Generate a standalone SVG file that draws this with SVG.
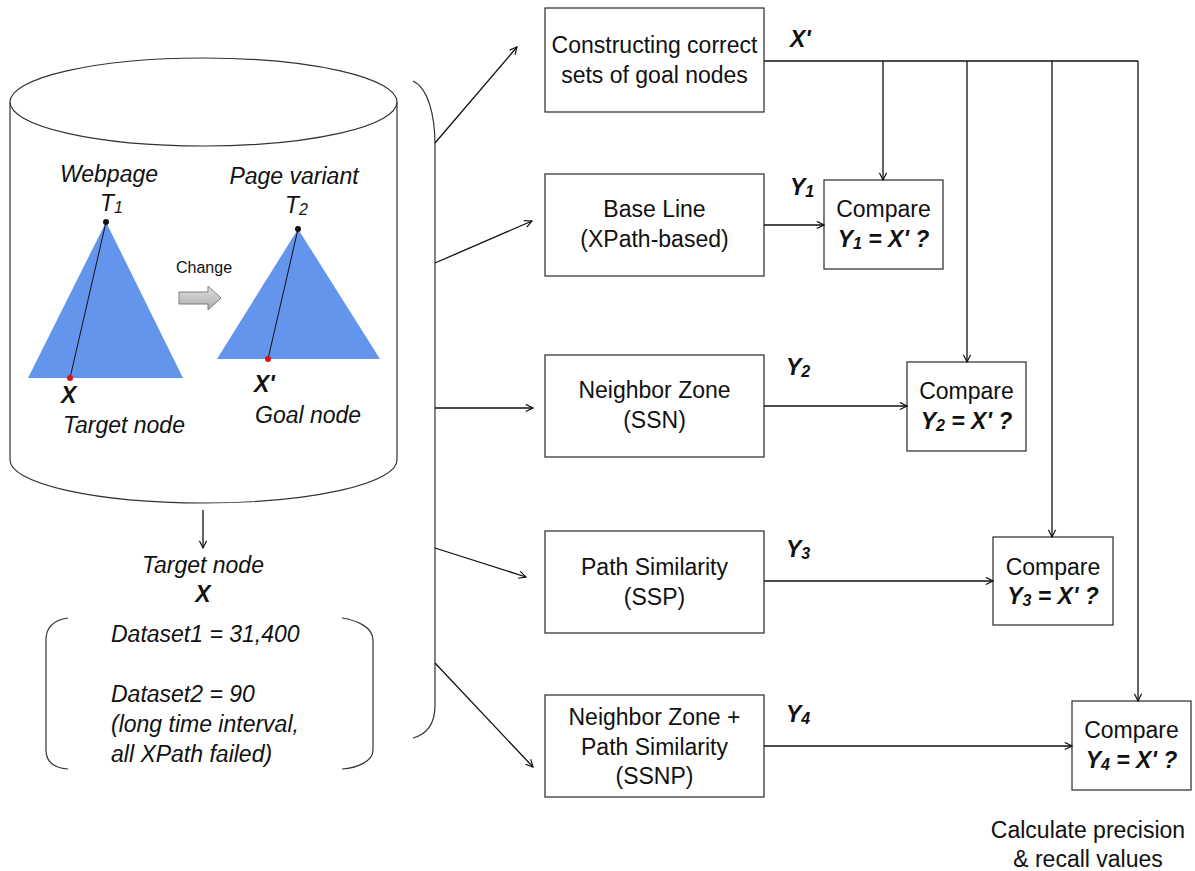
<svg xmlns="http://www.w3.org/2000/svg" width="1195" height="871" viewBox="0 0 1195 871">
  <style>
    text { font-family: "Liberation Sans", Arial, sans-serif; font-size: 23px; fill: #111; }
    .it { font-style: italic; }
    .bi { font-style: italic; font-weight: bold; }
    .mid { text-anchor: middle; }
    .sub { font-size: 16px; }
    .box { fill: #fff; stroke: #3a3a3a; stroke-width: 1.3; }
    .edge { fill: none; stroke: #111; stroke-width: 1.3; marker-end: url(#arrow); }
    .plain { fill: none; stroke: #111; stroke-width: 1.3; }
    .outline { fill: none; stroke: #333; stroke-width: 1.2; }
    .tree { fill: #6495ED; }
  </style>
  <defs>
    <marker id="arrow" viewBox="0 0 10 10" refX="9" refY="5" markerWidth="9" markerHeight="9" markerUnits="userSpaceOnUse" orient="auto">
      <path d="M1,1 L9,5 L1,9" fill="none" stroke="#111" stroke-width="1.3"/>
    </marker>
    <linearGradient id="grayArrow" x1="0" y1="0" x2="0" y2="1">
      <stop offset="0" stop-color="#e2e2e2"/>
      <stop offset="1" stop-color="#a9a9a9"/>
    </linearGradient>
    <filter id="soft" x="-5%" y="-5%" width="110%" height="110%">
      <feGaussianBlur stdDeviation="0.6"/>
    </filter>
  </defs>

  <!-- data store cylinder with the two page trees -->
  <g id="database">
    <path d="M10,102 L10,460 A193.5,43 0 0 0 397,460 L397,102" fill="#fff" stroke="#333" stroke-width="1.2"/>
    <ellipse cx="203.5" cy="102" rx="193.5" ry="44" fill="#fff" stroke="#333" stroke-width="1.2"/>

    <g id="tree-t1">
      <polygon class="tree" points="106,222 28,378 183,378" filter="url(#soft)"/>
      <line x1="106" y1="222" x2="70" y2="378" stroke="#111" stroke-width="1"/>
      <circle cx="106" cy="222" r="3" fill="#111"/>
      <circle cx="70" cy="378" r="3" fill="#e01010"/>
      <text class="it mid" x="109" y="182">Webpage</text>
      <text class="it" x="100" y="211">T<tspan class="sub" dy="2">1</tspan></text>
      <text class="bi" x="61" y="403">X</text>
      <text class="it" x="63" y="433">Target node</text>
    </g>

    <g id="change-arrow">
      <polygon points="179,292 208,292 208,286 221,298 208,310 208,304 179,304" fill="url(#grayArrow)" stroke="#7f7f7f" stroke-width="1"/>
      <text x="176" y="273" style="font-size:16px">Change</text>
    </g>

    <g id="tree-t2">
      <polygon class="tree" points="298,229 217,359 380,359" filter="url(#soft)"/>
      <line x1="298" y1="229" x2="268" y2="359" stroke="#111" stroke-width="1"/>
      <circle cx="298" cy="229" r="3" fill="#111"/>
      <circle cx="268" cy="359" r="3" fill="#e01010"/>
      <text class="it mid" x="294" y="184">Page variant</text>
      <text class="it" x="285" y="213">T<tspan class="sub" dy="2">2</tspan></text>
      <text class="bi" x="254" y="392">X'</text>
      <text class="it" x="255" y="423">Goal node</text>
    </g>
  </g>

  <!-- target node summary -->
  <g id="target-node">
    <text class="it mid" x="203" y="573">Target node</text>
    <text class="bi mid" x="203" y="602">X</text>
    <path class="outline" d="M68,618 C54,620 46,627 46,640 L46,750 C46,762 54,768 68,769"/>
    <path class="outline" d="M342,618 C356,620 373,627 373,640 L373,750 C373,762 356,768 342,769"/>
    <text class="it" x="111" y="642">Dataset1 = 31,400</text>
    <text class="it" x="111" y="702">Dataset2 = 90</text>
    <text class="it" x="111" y="732">(long time interval,</text>
    <text class="it" x="111" y="762">all XPath failed)</text>
  </g>

  <!-- brace grouping the inputs -->
  <g id="brace">
    <path class="outline" d="M413,81 C428,88 435,115 435,145 L435,705 C435,722 428,734 413,738"/>
  </g>

  <!-- method boxes -->
  <g id="ground-truth">
    <rect class="box" x="545" y="8" width="219" height="104"/>
    <text class="mid" x="654.5" y="53">Constructing correct</text>
    <text class="mid" x="654.5" y="83">sets of goal nodes</text>
  </g>
  <g id="baseline">
    <rect class="box" x="545" y="174" width="219" height="102"/>
    <text class="mid" x="654.5" y="217">Base Line</text>
    <text class="mid" x="654.5" y="247">(XPath-based)</text>
  </g>
  <g id="ssn">
    <rect class="box" x="545" y="355" width="219" height="102"/>
    <text class="mid" x="654.5" y="398">Neighbor Zone</text>
    <text class="mid" x="654.5" y="428">(SSN)</text>
  </g>
  <g id="ssp">
    <rect class="box" x="545" y="531" width="219" height="102"/>
    <text class="mid" x="654.5" y="575">Path Similarity</text>
    <text class="mid" x="654.5" y="605">(SSP)</text>
  </g>
  <g id="ssnp">
    <rect class="box" x="545" y="695" width="219" height="102"/>
    <text class="mid" x="654.5" y="725">Neighbor Zone +</text>
    <text class="mid" x="654.5" y="755">Path Similarity</text>
    <text class="mid" x="654.5" y="784">(SSNP)</text>
  </g>

  <!-- comparison boxes -->
  <g id="compare-1">
    <rect class="box" x="824" y="180" width="119" height="89"/>
    <text class="mid" x="883.5" y="217">Compare</text>
    <text class="bi mid" x="883.5" y="247">Y<tspan class="sub" dy="2">1</tspan><tspan dy="-2"> = X' ?</tspan></text>
  </g>
  <g id="compare-2">
    <rect class="box" x="907" y="362" width="119" height="89"/>
    <text class="mid" x="966.5" y="399">Compare</text>
    <text class="bi mid" x="966.5" y="429">Y<tspan class="sub" dy="2">2</tspan><tspan dy="-2"> = X' ?</tspan></text>
  </g>
  <g id="compare-3">
    <rect class="box" x="993" y="537" width="120" height="88"/>
    <text class="mid" x="1053" y="575">Compare</text>
    <text class="bi mid" x="1053" y="604">Y<tspan class="sub" dy="2">3</tspan><tspan dy="-2"> = X' ?</tspan></text>
  </g>
  <g id="compare-4">
    <rect class="box" x="1072" y="701" width="119" height="89"/>
    <text class="mid" x="1131.5" y="738">Compare</text>
    <text class="bi mid" x="1131.5" y="768">Y<tspan class="sub" dy="2">4</tspan><tspan dy="-2"> = X' ?</tspan></text>
  </g>

  <g id="metrics">
    <text class="mid" x="1088" y="838">Calculate precision</text>
    <text class="mid" x="1088" y="867">&amp; recall values</text>
  </g>

  <!-- connectors -->
  <g id="connectors">
    <line class="edge" x1="203" y1="510" x2="203" y2="548"/>

    <line class="edge" x1="435" y1="143" x2="517" y2="47"/>
    <line class="edge" x1="435" y1="263" x2="532" y2="221"/>
    <line class="edge" x1="435" y1="408" x2="533" y2="408"/>
    <line class="edge" x1="435" y1="548" x2="526" y2="577"/>
    <line class="edge" x1="435" y1="663" x2="533" y2="767"/>

    <!-- goal node set distributed to every comparison -->
    <line class="plain" x1="764" y1="61" x2="1138" y2="61"/>
    <line class="edge" x1="883" y1="61" x2="883" y2="180"/>
    <line class="edge" x1="967" y1="61" x2="967" y2="362"/>
    <line class="edge" x1="1052" y1="61" x2="1052" y2="537"/>
    <line class="edge" x1="1138" y1="61" x2="1138" y2="701"/>

    <line class="edge" x1="764" y1="225" x2="824" y2="225"/>
    <line class="edge" x1="764" y1="406" x2="907" y2="406"/>
    <line class="edge" x1="764" y1="581" x2="993" y2="581"/>
    <line class="edge" x1="764" y1="746" x2="1072" y2="746"/>
  </g>

  <g id="edge-labels">
    <text class="bi" x="790" y="47">X'</text>
    <text class="bi" x="790" y="195">Y<tspan class="sub" dy="2">1</tspan></text>
    <text class="bi" x="786" y="375">Y<tspan class="sub" dy="2">2</tspan></text>
    <text class="bi" x="786" y="557">Y<tspan class="sub" dy="2">3</tspan></text>
    <text class="bi" x="786" y="722">Y<tspan class="sub" dy="2">4</tspan></text>
  </g>
</svg>
